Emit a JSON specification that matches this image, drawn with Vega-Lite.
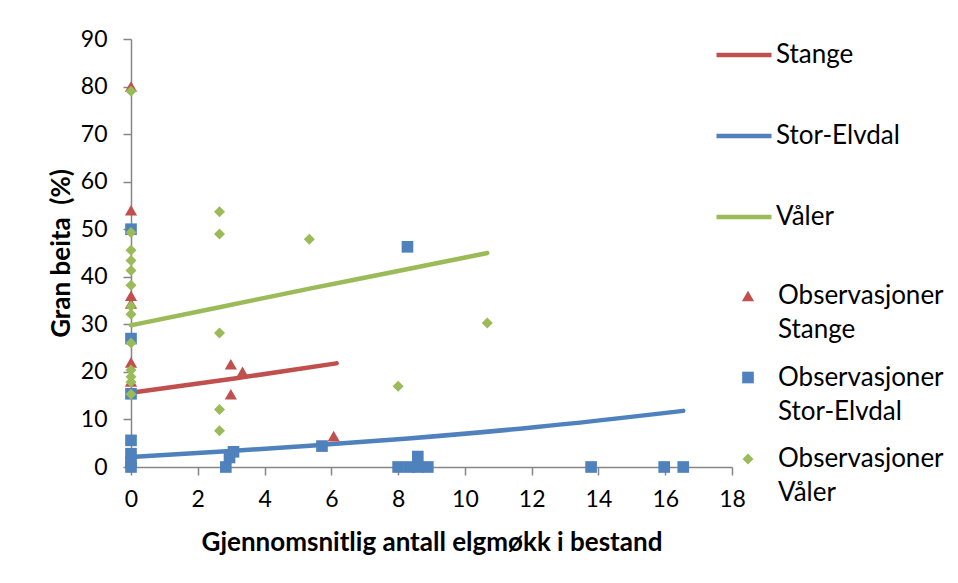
{
  "$schema": "https://vega.github.io/schema/vega-lite/v6.json",
  "width": 601,
  "height": 428,
  "autosize": "none",
  "padding": {"left": 131, "top": 39, "right": 226, "bottom": 116},
  "background": "white",
  "config": {
    "view": {"stroke": null},
    "font": "Lato",
    "axis": {
      "domainColor": "#868686",
      "domainWidth": 1.5,
      "tickColor": "#868686",
      "tickWidth": 1.5,
      "tickSize": 8,
      "grid": false,
      "labelFlush": false,
      "labelFont": "Lato",
      "labelFontSize": 23,
      "labelColor": "#000000",
      "titleFont": "Lato",
      "titleFontSize": 26,
      "titleFontWeight": "bold",
      "titleColor": "#000000"
    },
    "legend": {
      "labelFont": "Lato",
      "labelFontSize": 26,
      "labelColor": "#000000",
      "labelLimit": 0,
      "padding": 0,
      "orient": "none"
    }
  },
  "datasets": {
    "fit": [
      {"site": "Stange", "x": 0, "y": 15.6},
      {"site": "Stange", "x": 3.1, "y": 18.6},
      {"site": "Stange", "x": 6.16, "y": 21.8},
      {"site": "Stor-Elvdal", "x": 0, "y": 2.1},
      {"site": "Stor-Elvdal", "x": 3.1, "y": 3.4},
      {"site": "Stor-Elvdal", "x": 5.8, "y": 4.7},
      {"site": "Stor-Elvdal", "x": 8.3, "y": 6.0},
      {"site": "Stor-Elvdal", "x": 12.15, "y": 8.4},
      {"site": "Stor-Elvdal", "x": 16.54, "y": 11.8},
      {"site": "Våler", "x": 0, "y": 29.8},
      {"site": "Våler", "x": 2.65, "y": 33.6},
      {"site": "Våler", "x": 5.35, "y": 37.5},
      {"site": "Våler", "x": 8.0, "y": 41.2},
      {"site": "Våler", "x": 10.67, "y": 45.0}
    ],
    "obs": [
      {"serie": "Observasjoner Stange", "x": 0, "y": 80},
      {"serie": "Observasjoner Stange", "x": 0, "y": 54},
      {"serie": "Observasjoner Stange", "x": 0, "y": 36},
      {"serie": "Observasjoner Stange", "x": 0, "y": 34.4},
      {"serie": "Observasjoner Stange", "x": 0, "y": 22},
      {"serie": "Observasjoner Stange", "x": 0, "y": 18},
      {"serie": "Observasjoner Stange", "x": 2.99, "y": 21.6},
      {"serie": "Observasjoner Stange", "x": 3.34, "y": 20.0},
      {"serie": "Observasjoner Stange", "x": 2.99, "y": 15.3},
      {"serie": "Observasjoner Stange", "x": 6.07, "y": 6.5},
      {"serie": "Observasjoner Stor-Elvdal", "x": 0, "y": 50},
      {"serie": "Observasjoner Stor-Elvdal", "x": 0, "y": 27},
      {"serie": "Observasjoner Stor-Elvdal", "x": 0, "y": 15.4},
      {"serie": "Observasjoner Stor-Elvdal", "x": 0, "y": 5.6},
      {"serie": "Observasjoner Stor-Elvdal", "x": 0, "y": 2.8},
      {"serie": "Observasjoner Stor-Elvdal", "x": 0, "y": 1},
      {"serie": "Observasjoner Stor-Elvdal", "x": 0, "y": 0},
      {"serie": "Observasjoner Stor-Elvdal", "x": 2.84, "y": 0},
      {"serie": "Observasjoner Stor-Elvdal", "x": 2.95, "y": 2},
      {"serie": "Observasjoner Stor-Elvdal", "x": 3.07, "y": 3.2},
      {"serie": "Observasjoner Stor-Elvdal", "x": 5.72, "y": 4.4},
      {"serie": "Observasjoner Stor-Elvdal", "x": 8.28, "y": 46.3},
      {"serie": "Observasjoner Stor-Elvdal", "x": 8.0, "y": 0},
      {"serie": "Observasjoner Stor-Elvdal", "x": 8.34, "y": 0},
      {"serie": "Observasjoner Stor-Elvdal", "x": 8.59, "y": 2.2},
      {"serie": "Observasjoner Stor-Elvdal", "x": 8.59, "y": 0},
      {"serie": "Observasjoner Stor-Elvdal", "x": 8.89, "y": 0},
      {"serie": "Observasjoner Stor-Elvdal", "x": 13.78, "y": 0},
      {"serie": "Observasjoner Stor-Elvdal", "x": 15.97, "y": 0},
      {"serie": "Observasjoner Stor-Elvdal", "x": 16.54, "y": 0},
      {"serie": "Observasjoner Våler", "x": 0, "y": 79},
      {"serie": "Observasjoner Våler", "x": 0, "y": 49.3},
      {"serie": "Observasjoner Våler", "x": 0, "y": 45.6},
      {"serie": "Observasjoner Våler", "x": 0, "y": 43.4},
      {"serie": "Observasjoner Våler", "x": 0, "y": 41.3},
      {"serie": "Observasjoner Våler", "x": 0, "y": 38.2},
      {"serie": "Observasjoner Våler", "x": 0, "y": 33.8},
      {"serie": "Observasjoner Våler", "x": 0, "y": 32.1},
      {"serie": "Observasjoner Våler", "x": 0, "y": 26.1},
      {"serie": "Observasjoner Våler", "x": 0, "y": 20.4},
      {"serie": "Observasjoner Våler", "x": 0, "y": 19},
      {"serie": "Observasjoner Våler", "x": 0, "y": 17.9},
      {"serie": "Observasjoner Våler", "x": 0, "y": 15.3},
      {"serie": "Observasjoner Våler", "x": 2.65, "y": 53.7},
      {"serie": "Observasjoner Våler", "x": 2.65, "y": 49.0},
      {"serie": "Observasjoner Våler", "x": 2.65, "y": 28.2},
      {"serie": "Observasjoner Våler", "x": 2.65, "y": 12.1},
      {"serie": "Observasjoner Våler", "x": 2.65, "y": 7.6},
      {"serie": "Observasjoner Våler", "x": 5.34, "y": 47.9},
      {"serie": "Observasjoner Våler", "x": 8.0, "y": 17.0},
      {"serie": "Observasjoner Våler", "x": 10.67, "y": 30.3}
    ]
  },
  "layer": [
    {
      "data": {"name": "fit"},
      "mark": {"type": "line", "strokeWidth": 4.5, "strokeCap": "round", "interpolate": "monotone"},
      "encoding": {
        "x": {
          "field": "x", "type": "quantitative",
          "scale": {"domain": [0, 18], "nice": false},
          "axis": {
            "values": [0, 2, 4, 6, 8, 10, 12, 14, 16, 18],
            "title": "Gjennomsnitlig antall elgmøkk i bestand",
            "labelPadding": 13,
            "titlePadding": 18
          }
        },
        "y": {
          "field": "y", "type": "quantitative",
          "scale": {"domain": [0, 90], "nice": false},
          "axis": {
            "values": [0, 10, 20, 30, 40, 50, 60, 70, 80, 90],
            "title": "Gran beita\u00a0 (%)",
            "labelPadding": 16,
            "titlePadding": 6
          }
        },
        "stroke": {
          "field": "site", "type": "nominal",
          "scale": {"domain": ["Stange", "Stor-Elvdal", "Våler"], "range": ["#C0504D", "#4F81BD", "#9BBB59"]},
          "legend": {
            "title": null,
            "symbolType": "stroke",
            "symbolSize": 3025,
            "symbolStrokeWidth": 4.5,
            "labelOffset": 2,
            "rowPadding": 38,
            "legendX": 583,
            "legendY": -14
          }
        }
      }
    },
    {
      "data": {"name": "obs"},
      "mark": {"type": "point", "filled": true, "opacity": 1},
      "encoding": {
        "x": {"field": "x", "type": "quantitative"},
        "y": {"field": "y", "type": "quantitative"},
        "color": {
          "field": "serie", "type": "nominal",
          "scale": {
            "domain": ["Observasjoner Stange", "Observasjoner Stor-Elvdal", "Observasjoner Våler"],
            "range": ["#C0504D", "#4F81BD", "#9BBB59"]
          },
          "legend": {
            "title": null,
            "symbolSize": 90,
            "symbolOpacity": 1,
            "labelOffset": 17,
            "rowPadding": 21.5,
            "legendX": 604,
            "legendY": 244,
            "labelExpr": "['Observasjoner', slice(datum.label, 14)]",
            "encode": {"labels": {"update": {"lineHeight": {"value": 34}}}}
          }
        },
        "shape": {
          "field": "serie", "type": "nominal",
          "scale": {
            "domain": ["Observasjoner Stange", "Observasjoner Stor-Elvdal", "Observasjoner Våler"],
            "range": ["triangle-up", "square", "diamond"]
          }
        },
        "size": {
          "field": "serie", "type": "nominal",
          "scale": {
            "domain": ["Observasjoner Stange", "Observasjoner Stor-Elvdal", "Observasjoner Våler"],
            "range": [150, 121, 170]
          },
          "legend": null
        }
      }
    }
  ]
}
